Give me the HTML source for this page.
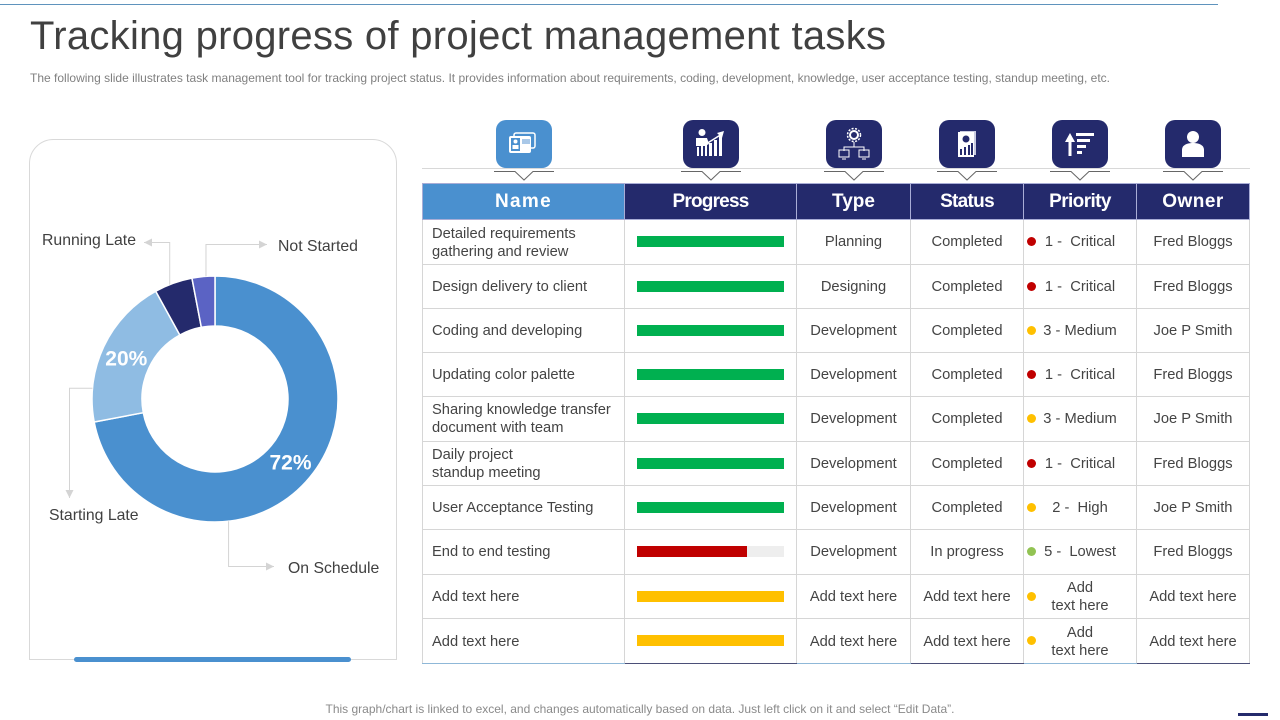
<!DOCTYPE html>
<html lang="en">
<head>
<meta charset="utf-8">
<title>Tracking progress of project management tasks</title>
<style>
html,body{margin:0;padding:0;background:#fff;}
body{width:1280px;height:720px;position:relative;overflow:hidden;font-family:"Liberation Sans",sans-serif;}
#stage{position:absolute;left:0;top:0;width:1280px;height:720px;}
#task-table{position:absolute;left:422px;top:183px;width:827px;table-layout:fixed;border-collapse:collapse;font-size:14.7px;line-height:18px;color:#444;}
#task-table th{height:35px;padding:0;background:#242a6c;color:#fff;font-size:19px;font-weight:bold;border:1px solid #a9add6;text-align:center;}
#task-table th:first-child{background:#4a90cf;}
#task-table td{padding:0;border:1px solid #d6d6d6;text-align:center;position:relative;white-space:pre;}
#task-table td:first-child{text-align:left;padding-left:9px;}
#task-table tbody tr:first-child td:first-child{padding-top:1px;}
#task-table tr:last-child td{border-bottom:1.5px solid #4b4f78;padding-top:1px;}
#task-table tr:last-child td:nth-child(odd){border-bottom-color:#8fb8d8;}
.dot{position:absolute;left:3px;top:50%;width:9px;height:9px;margin-top:-5px;border-radius:50%;}
.track{position:absolute;left:12px;top:50%;width:147px;height:11px;margin-top:-6px;background:#eeeeee;}
.fill{height:100%;}
</style>
</head>
<body>
<svg id="stage" width="1280" height="720" viewBox="0 0 1280 720" xmlns="http://www.w3.org/2000/svg" font-family="'Liberation Sans',sans-serif">
  <rect x="0" y="4" width="1218" height="1" fill="#5f93bd"/>
  <text x="30" y="49" font-size="40" fill="#404040" textLength="856" lengthAdjust="spacing">Tracking progress of project management tasks</text>
  <text x="30" y="82" font-size="12" fill="#808080" textLength="1080" lengthAdjust="spacing">The following slide illustrates task management tool for tracking project status. It provides information about requirements, coding, development, knowledge, user acceptance testing, standup meeting, etc.</text>

  <path d="M29.5 659.5V163.5a24 24 0 0 1 24-24H372.500a24 24 0 0 1 24 24V659.500Z" fill="#fff" stroke="#d9d9d9"/>
  <rect x="74" y="657" width="277" height="5" rx="2.500" fill="#4a90cf"/>

  <g id="donut"></g>
  <g id="leaders"></g>

  <g font-size="15.8" fill="#404040" style="white-space:pre">
    <text x="42" y="245">Running  Late</text>
    <text x="278" y="251">Not Started</text>
    <text x="49" y="520">Starting Late</text>
    <text x="288" y="573">On Schedule</text>
  </g>

  <line x1="422" y1="168.500" x2="1250" y2="168.500" stroke="#d8d8d8"/>

  <g transform="translate(524 144)">
    <rect x="-28" y="-24" width="56" height="48" rx="10" fill="#4a90cf"/>
    <rect x="-10" y="-11" width="21" height="15" rx="2" fill="none" stroke="#fff" stroke-width="1.500"/>
    <rect x="-15" y="-8" width="22" height="17" rx="2" fill="#fff"/>
    <rect x="-13" y="-6" width="9" height="13" fill="#4a90cf"/>
    <circle cx="-8.500" cy="-2.500" r="2" fill="#fff"/>
    <rect x="-11.500" y="1" width="6" height="4" fill="#fff"/>
    <rect x="-2" y="-5" width="8" height="5" fill="#a9c8e8"/>
  </g>
  <g transform="translate(711 144)" fill="#fff">
    <rect x="-28" y="-24" width="56" height="48" rx="10" fill="#242a6c"/>
    <circle cx="-9" cy="-11.500" r="3.500"/>
    <path d="M-15-6h11l2 6-4 2H-15Z"/>
    <rect x="-14" y="3" width="2" height="9"/><rect x="-10" y="2" width="2" height="10"/><rect x="-6" y="1" width="2" height="11"/>
    <rect x="-2" y="-1" width="3" height="13"/><rect x="3" y="-4" width="3" height="16"/><rect x="8" y="-8" width="3" height="20"/>
    <path d="M-5 0L11-10" stroke="#fff" stroke-width="1.500"/>
    <path d="M13-13L6-11L11-6Z"/>
  </g>
  <g transform="translate(854 144)" fill="none" stroke="#fff">
    <rect x="-28" y="-24" width="56" height="48" rx="10" fill="#242a6c" stroke="none"/>
    <circle cx="0" cy="-9" r="4" stroke-width="2"/>
    <circle cx="0" cy="-9" r="6.500" stroke-width="1.500" stroke-dasharray="2 1.500"/>
    <path d="M0-2V3M-10 7V3H10V7" stroke-width="1"/>
    <rect x="-15" y="6" width="10" height="7" stroke-width="1"/>
    <rect x="5" y="6" width="10" height="7" stroke-width="1"/>
    <path d="M-12 15H-8M8 15H12" stroke-width="1"/>
  </g>
  <g transform="translate(967 144)" fill="#fff">
    <rect x="-28" y="-24" width="56" height="48" rx="10" fill="#242a6c"/>
    <rect x="-7" y="-13" width="16" height="24" fill="#c9cbe0"/>
    <rect x="-9" y="-12" width="16" height="25"/>
    <circle cx="-1" cy="-5" r="3.500" fill="#242a6c"/>
    <rect x="-7" y="5" width="2" height="6" fill="#242a6c"/><rect x="-3" y="3" width="2" height="8" fill="#242a6c"/><rect x="1" y="1" width="2" height="10" fill="#242a6c"/><rect x="4" y="-1" width="2" height="12" fill="#242a6c"/>
  </g>
  <g transform="translate(1080 144)" fill="#fff">
    <rect x="-28" y="-24" width="56" height="48" rx="10" fill="#242a6c"/>
    <path d="M-10-11L-15-2H-11.500V12H-8.500V-2H-5Z"/>
    <rect x="-4" y="-11" width="18" height="3"/>
    <rect x="-3" y="-5" width="13" height="3"/>
    <rect x="-3" y="1" width="9" height="3"/>
    <rect x="-3" y="7" width="5" height="3"/>
  </g>
  <g transform="translate(1193 144)" fill="#fff">
    <rect x="-28" y="-24" width="56" height="48" rx="10" fill="#242a6c"/>
    <circle cx="0" cy="-7" r="6"/>
    <path d="M-11 13V6C-11 1-6-1 0-1S11 1 11 6V13Z"/>
  </g>

  <g fill="none" stroke="#666666" stroke-width="1">
    <path d="M494 171.500H515L524 180L533 171.500H554"/>
    <path d="M681 171.500H702L711 180L720 171.500H741"/>
    <path d="M824 171.500H845L854 180L863 171.500H884"/>
    <path d="M937 171.500H958L967 180L976 171.500H997"/>
    <path d="M1050 171.500H1071L1080 180L1089 171.500H1110"/>
    <path d="M1163 171.500H1184L1193 180L1202 171.500H1223"/>
  </g>

  <text x="640" y="713" font-size="12" fill="#8a8a8a" text-anchor="middle" textLength="629" lengthAdjust="spacing">This graph/chart is linked to excel, and changes automatically based on data. Just left click on it and select “Edit Data”.</text>
  <rect x="1238" y="713" width="30" height="3" fill="#242a6c"/>
</svg>

<table id="task-table">
  <colgroup><col style="width:202px"><col style="width:172px"><col style="width:114px"><col style="width:113px"><col style="width:113px"><col style="width:113px"></colgroup>
  <thead>
    <tr>
      <th style="letter-spacing:1.3px">Name</th>
      <th style="letter-spacing:-.8px">Progress</th>
      <th>Type</th>
      <th style="letter-spacing:-.7px">Status</th>
      <th style="letter-spacing:-.6px">Priority</th>
      <th style="letter-spacing:.5px">Owner</th>
    </tr>
  </thead>
  <tbody>
    <tr style="height:45px"><td>Detailed requirements
gathering and review</td><td class="progress-cell"></td><td>Planning</td><td>Completed</td><td><span class="dot" style="background:#c00000"></span>1 -  Critical</td><td>Fred Bloggs</td></tr>
    <tr style="height:44px"><td>Design delivery to client</td><td class="progress-cell"></td><td>Designing</td><td>Completed</td><td><span class="dot" style="background:#c00000"></span>1 -  Critical</td><td>Fred Bloggs</td></tr>
    <tr style="height:44px"><td>Coding and developing</td><td class="progress-cell"></td><td>Development</td><td>Completed</td><td><span class="dot" style="background:#ffc000"></span>3 - Medium</td><td>Joe P Smith</td></tr>
    <tr style="height:44px"><td>Updating color palette</td><td class="progress-cell"></td><td>Development</td><td>Completed</td><td><span class="dot" style="background:#c00000"></span>1 -  Critical</td><td>Fred Bloggs</td></tr>
    <tr style="height:45px"><td>Sharing knowledge transfer
document with team</td><td class="progress-cell"></td><td>Development</td><td>Completed</td><td><span class="dot" style="background:#ffc000"></span>3 - Medium</td><td>Joe P Smith</td></tr>
    <tr style="height:44px"><td>Daily project
standup meeting</td><td class="progress-cell"></td><td>Development</td><td>Completed</td><td><span class="dot" style="background:#c00000"></span>1 -  Critical</td><td>Fred Bloggs</td></tr>
    <tr style="height:44px"><td>User Acceptance Testing</td><td class="progress-cell"></td><td>Development</td><td>Completed</td><td><span class="dot" style="background:#ffc000"></span>2 -  High</td><td>Joe P Smith</td></tr>
    <tr style="height:45px"><td>End to end testing</td><td class="progress-cell"></td><td>Development</td><td>In progress</td><td><span class="dot" style="background:#92c353"></span>5 -  Lowest</td><td>Fred Bloggs</td></tr>
    <tr style="height:44px"><td>Add text here</td><td class="progress-cell"></td><td>Add text here</td><td>Add text here</td><td><span class="dot" style="background:#ffc000"></span>Add
text here</td><td>Add text here</td></tr>
    <tr style="height:45px"><td>Add text here</td><td class="progress-cell"></td><td>Add text here</td><td>Add text here</td><td><span class="dot" style="background:#ffc000"></span>Add
text here</td><td>Add text here</td></tr>
  </tbody>
</table>

<script>
var donutCategories = ["On Schedule", "Starting Late", "Running Late", "Not Started"];
var donutValues = [72, 20, 5, 3];
var donutColors = ["#4a90cf", "#8fbce3", "#242a6c", "#5b63c4"];
var progressValues = [100, 100, 100, 100, 100, 100, 100, 75, 100, 100];
var progressStatus = ["done", "done", "done", "done", "done", "done", "done", "late", "open", "open"];

var SVG_NS = "http://www.w3.org/2000/svg";
var CX = 215, CY = 399, R_OUT = 123, R_IN = 73, R_MID = 98;
var statusColor = { done: "#00b050", late: "#c00000", open: "#ffc000" };

function totalValue() {
  return donutValues.reduce(function (a, b) { return a + b; }, 0);
}
function angleOf(cumulative) {
  return cumulative / totalValue() * 2 * Math.PI;
}
function polar(angle, radius) {
  return [CX + radius * Math.sin(angle), CY - radius * Math.cos(angle)];
}
function slicePath(a0, a1) {
  var large = a1 - a0 > Math.PI ? 1 : 0;
  var p0 = polar(a0, R_OUT), p1 = polar(a1, R_OUT), p2 = polar(a1, R_IN), p3 = polar(a0, R_IN);
  return "M" + p0[0] + " " + p0[1] + "A" + R_OUT + " " + R_OUT + " 0 " + large + " 1 " + p1[0] + " " + p1[1] +
    "L" + p2[0] + " " + p2[1] + "A" + R_IN + " " + R_IN + " 0 " + large + " 0 " + p3[0] + " " + p3[1] + "Z";
}

var donut = document.getElementById("donut");
var sliceAngles = [];
var running = 0;
donutValues.forEach(function (value, i) {
  var a0 = angleOf(running);
  running += value;
  var a1 = angleOf(running);
  sliceAngles.push([a0, a1]);
  var path = document.createElementNS(SVG_NS, "path");
  path.setAttribute("d", slicePath(a0, a1));
  path.setAttribute("fill", donutColors[i]);
  path.setAttribute("stroke", "#ffffff");
  path.setAttribute("stroke-width", "1.5");
  
  
  donut.appendChild(path);
});
donutValues.forEach(function (value, i) {
  if (value < 10) { return; }
  var mid = (sliceAngles[i][0] + sliceAngles[i][1]) / 2;
  var pos = polar(mid, R_MID);
  var label = document.createElementNS(SVG_NS, "text");
  label.setAttribute("x", pos[0]);
  label.setAttribute("y", pos[1] + 8);
  label.setAttribute("text-anchor", "middle");
  label.setAttribute("font-size", "21");
  label.setAttribute("font-weight", "bold");
  label.setAttribute("fill", "#ffffff");
  
  
  label.textContent = value + "%";
  donut.appendChild(label);
});

// Leader elbows: where along each slice the line leaves, and its elbow / arrow end.
var leaderLayout = [
  { slice: 0, along: 0.67, route: "v", elbow: 566, end: 274 },
  { slice: 1, along: 0.22, route: "h", elbow: 69.5, end: 498 },
  { slice: 2, along: 0.40, route: "v", elbow: 242, end: 144 },
  { slice: 3, along: 0.61, route: "v", elbow: 244, end: 267 }
];
var leaders = document.getElementById("leaders");
leaderLayout.forEach(function (item) {
  var s = sliceAngles[item.slice];
  var start = polar(s[0] + (s[1] - s[0]) * item.along, R_OUT);
  var line = document.createElementNS(SVG_NS, "path");
  var head = document.createElementNS(SVG_NS, "path");
  var d, h;
  if (item.route === "v") {
    d = "M" + start[0] + " " + start[1] + "V" + (item.elbow + .5) + "H" + item.end;
    var dir = item.end > start[0] ? -1 : 1;
    h = "M" + item.end + " " + (item.elbow + .5) + "l" + (dir * 8) + " -4v8Z";
  } else {
    d = "M" + start[0] + " " + start[1] + "H" + item.elbow + "V" + item.end;
    h = "M" + item.elbow + " " + item.end + "l-4 -8h8Z";
  }
  line.setAttribute("d", d);
  line.setAttribute("fill", "none");
  line.setAttribute("stroke", "#d4d4d4");
  
  
  head.setAttribute("d", h);
  head.setAttribute("fill", "#d4d4d4");
  
  
  leaders.appendChild(line);
  leaders.appendChild(head);
});

function barWidth(value) {
  return value + "%";
}
var cells = document.querySelectorAll(".progress-cell");
progressValues.forEach(function (value, i) {
  var track = document.createElement("div");
  track.className = "track";
  
  
  var fill = document.createElement("div");
  fill.className = "fill";
  fill.style.width = barWidth(value);
  fill.style.background = statusColor[progressStatus[i]];
  
  
  track.appendChild(fill);
  cells[i].appendChild(track);
});
</script>
</body>
</html>
